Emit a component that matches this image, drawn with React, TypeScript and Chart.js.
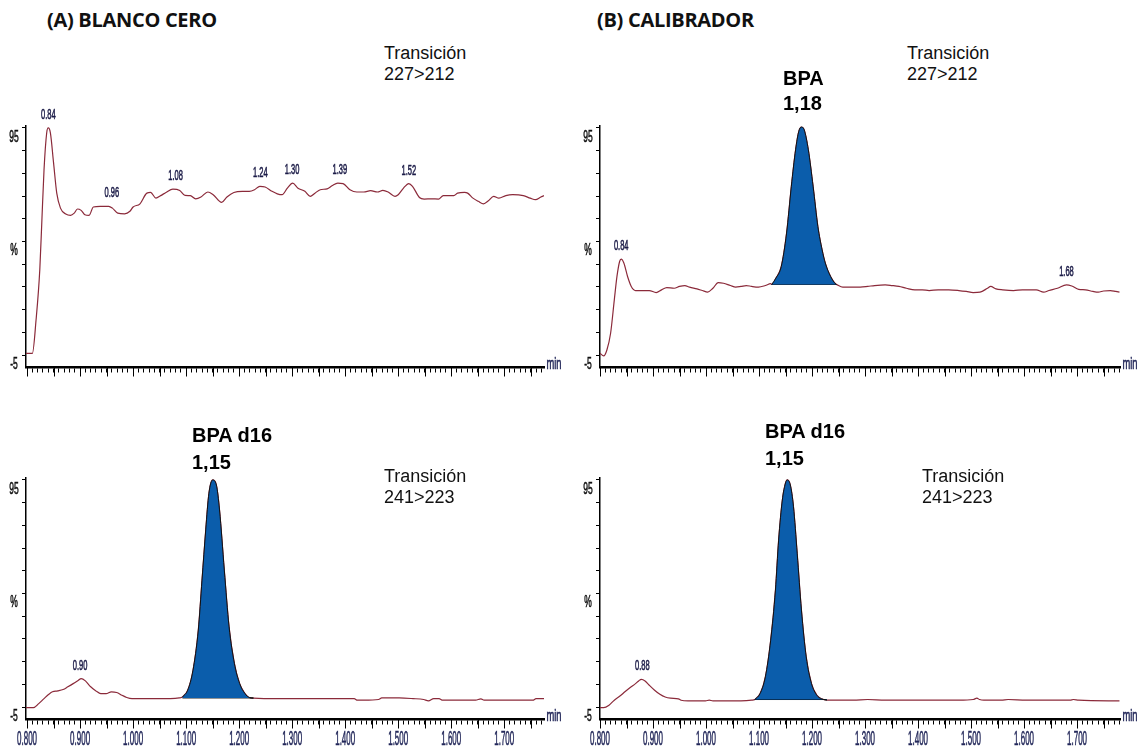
import React, { useEffect, useRef } from "react";
import { Chart, registerables } from "chart.js";

Chart.register(...registerables);

// ---------- (A) BLANCO CERO, transition 227>212 ----------
const a1Time = [0.797,0.810,0.817,0.824,0.828,0.832,0.837,0.840,0.844,0.850,0.856,0.863,0.873,0.882,0.889,0.895,0.902,0.909,0.917,0.925,0.938,0.954,0.961,0.971,0.984,0.994,1.000,1.013,1.026,1.033,1.043,1.052,1.062,1.075,1.088,1.098,1.108,1.118,1.128,1.141,1.151,1.167,1.177,1.190,1.206,1.219,1.229,1.239,1.249,1.262,1.272,1.281,1.291,1.301,1.311,1.324,1.334,1.343,1.353,1.366,1.376,1.386,1.396,1.409,1.422,1.435,1.448,1.461,1.471,1.481,1.494,1.500,1.510,1.520,1.527,1.540,1.549,1.563,1.576,1.585,1.605,1.612,1.625,1.631,1.641,1.651,1.661,1.670,1.680,1.690,1.703,1.716,1.736,1.749,1.759,1.769,1.775];
const a1Signal = [-4.3,-4.3,10.5,32.5,54.6,76.6,92.8,95,92.8,79.6,66.3,59.7,57.1,56.5,57.5,59.3,58.7,56.8,56.5,60.2,60.5,60.5,59.7,57.5,57.2,58.3,60.2,61.6,66.3,66.6,64.1,65.2,66.6,68.1,67.5,65.3,65.2,63.8,64.6,66.8,65.6,62.2,64.6,66.6,67.1,67.1,67.8,69.3,69.0,67.1,66.0,65.6,68.5,70.7,68.5,67.1,64.9,66.3,67.8,68.2,69.7,70.7,70.5,67.8,66.8,66.8,67.4,66.8,67.5,66.8,64.9,65.6,68.5,70.5,69.3,64.4,63.7,63.8,63.7,65.2,65.2,66.3,66.6,66.3,64.1,62.7,61.6,62.9,64.9,64.1,65.2,65.6,65.2,64.1,63.4,64.6,65.2];
const a1PeakTimes = [0.84, 0.96, 1.08, 1.24, 1.30, 1.39, 1.52];
const a1PeakHeights = [95, 60.5, 68.1, 69.3, 70.7, 70.7, 70.5];
const a1PeakTexts = ["0.84", "0.96", "1.08", "1.24", "1.30", "1.39", "1.52"];

// ---------- (A) BLANCO CERO, transition 241>223 ----------
const a2Time = [0.796,0.812,0.822,0.832,0.841,0.848,0.858,0.868,0.877,0.887,0.897,0.902,0.910,0.920,0.930,0.939,0.949,0.959,0.969,0.979,0.988,0.998,1.018,1.044,1.070,1.087,1.093,1.103,1.113,1.123,1.130,1.137,1.143,1.150,1.157,1.163,1.172,1.181,1.191,1.201,1.211,1.219,1.227,1.247,1.306,1.371,1.417,1.423,1.436,1.463,1.469,1.502,1.528,1.548,1.557,1.567,1.577,1.584,1.607,1.646,1.656,1.662,1.698,1.754,1.760,1.775];
const a2Signal = [-5.3,-5.3,-3.5,-1.3,0.6,1.7,2.1,2.7,3.9,5.3,6.8,7.5,6.5,3.9,2.1,0.9,0.9,1.7,1.4,0.2,-0.8,-1.3,-1.3,-1.3,-1.3,-1.0,-0.6,2.4,11.2,28.9,50.9,73.0,89.1,95,92.8,81.8,55.3,30.3,14.2,5.3,0.9,-0.8,-1.1,-1.3,-1.3,-1.3,-1.3,-2.0,-2.0,-1.7,-1.0,-1.0,-1.3,-1.7,-2.3,-1.3,-1.3,-2.0,-2.0,-2.0,-1.4,-2.0,-2.0,-2.0,-1.3,-1.3];
const a2PeakTimes = [0.90];
const a2PeakHeights = [7.5];
const a2PeakTexts = ["0.90"];
const a2Integrated = [1.093, 1.227];
const a2Baseline = -1.0;

// ---------- (B) CALIBRADOR, transition 227>212 ----------
const b1Time = [0.800,0.807,0.813,0.820,0.827,0.832,0.837,0.840,0.845,0.852,0.859,0.867,0.880,0.893,0.906,0.916,0.926,0.940,0.950,0.960,0.969,0.983,0.993,1.003,1.013,1.023,1.033,1.046,1.056,1.066,1.076,1.086,1.099,1.112,1.122,1.124,1.132,1.142,1.152,1.161,1.169,1.175,1.180,1.185,1.193,1.202,1.211,1.219,1.225,1.235,1.245,1.246,1.258,1.278,1.291,1.305,1.318,1.338,1.351,1.364,1.378,1.394,1.408,1.421,1.438,1.458,1.477,1.491,1.504,1.517,1.531,1.537,1.547,1.560,1.580,1.597,1.623,1.637,1.647,1.663,1.680,1.690,1.703,1.716,1.730,1.740,1.750,1.763,1.773,1.780];
const b1Signal = [-4.2,-5.4,-2.8,4.6,19.3,29.6,36.2,37.2,35.5,29.6,25.2,23.4,23.4,23.4,22.5,23.7,24.7,24.4,25.2,25.6,24.9,24.1,23.4,22.7,24.4,26.9,26.6,25.6,24.9,25.2,25.6,25.2,24.9,25.6,26.4,26.1,28.9,34.0,48.7,69.3,85.4,93.5,95.4,94.3,85.4,69.3,51.6,41.3,35.5,29.6,26.2,26.1,24.9,24.9,24.9,25.2,25.6,25.9,25.6,25.2,24.4,23.7,23.7,23.4,23.7,23.7,23.4,23.0,22.5,22.7,24.4,25.2,24.1,23.7,23.4,23.7,23.7,22.7,23.4,24.4,25.9,25.4,23.9,23.7,23.0,22.7,23.2,23.4,23.0,22.7];
const b1PeakTimes = [0.84, 1.68];
const b1PeakHeights = [37.2, 25.9];
const b1PeakTexts = ["0.84", "1.68"];
const b1Integrated = [1.124, 1.246];
const b1Baseline = 26.1;

// ---------- (B) CALIBRADOR, transition 241>223 ----------
const b2Time = [0.800,0.807,0.817,0.827,0.837,0.847,0.857,0.867,0.873,0.878,0.885,0.893,0.903,0.913,0.923,0.933,0.948,0.953,0.966,0.999,1.006,1.013,1.066,1.086,1.092,1.102,1.112,1.122,1.131,1.137,1.144,1.149,1.153,1.159,1.165,1.172,1.180,1.189,1.199,1.209,1.218,1.228,1.238,1.278,1.305,1.338,1.371,1.438,1.477,1.504,1.511,1.516,1.524,1.557,1.570,1.604,1.687,1.693,1.703,1.780];
const b2Signal = [-5.3,-5.3,-4.2,-2.0,-0.3,1.7,3.6,5.3,6.5,7.2,6.5,4.6,2.4,0.6,-0.6,-1.1,-1.4,-2.0,-2.3,-2.3,-2.0,-2.3,-2.3,-2.0,-1.7,0.9,8.3,24.4,46.5,68.5,86.2,92.8,95,92.8,83.2,62.7,37.7,17.1,5.3,0.2,-1.4,-2.0,-2.0,-2.0,-1.7,-2.0,-2.0,-2.0,-2.0,-1.7,-1.1,-1.7,-2.0,-2.0,-1.7,-2.0,-2.0,-1.7,-2.0,-2.3];
const b2PeakTimes = [0.88];
const b2PeakHeights = [7.2];
const b2PeakTexts = ["0.88"];
const b2Integrated = [1.092, 1.228];
const b2Baseline = -1.7;

// ---------- axes ----------
const xTickValues = [0.8, 0.9, 1.0, 1.1, 1.2, 1.3, 1.4, 1.5, 1.6, 1.7];
const xTickLabels = ["0.800", "0.900", "1.000", "1.100", "1.200", "1.300", "1.400", "1.500", "1.600", "1.700"];
const yTickValues = [95, 45, -5];
const yTickLabels = ["95", "%", "-5"];
const xUnit = "min";

type Panel = {
  time: number[];
  signal: number[];
  peakTimes: number[];
  peakHeights: number[];
  peakTexts: string[];
  integrated: number[] | null;
  baseline: number;
  box: { left: number; top: number; width: number; height: number };
  plot: { left: number; right: number; top: number; bottom: number };
  xMin: number;
  xMax: number;
  showXLabels: boolean;
};

const Y_MIN = -10.5;
const Y_MAX = 96;

const PANELS: Panel[] = [
  {
    time: a1Time, signal: a1Signal, peakTimes: a1PeakTimes, peakHeights: a1PeakHeights, peakTexts: a1PeakTexts,
    integrated: null, baseline: 0,
    box: { left: 0, top: 95, width: 575, height: 305 },
    plot: { left: 26, right: 544, top: 125.7, bottom: 367.5 },
    xMin: 0.798, xMax: 1.775, showXLabels: false,
  },
  {
    time: b1Time, signal: b1Signal, peakTimes: b1PeakTimes, peakHeights: b1PeakHeights, peakTexts: b1PeakTexts,
    integrated: b1Integrated, baseline: b1Baseline,
    box: { left: 575, top: 95, width: 563, height: 305 },
    plot: { left: 600, right: 1120, top: 125.7, bottom: 367.5 },
    xMin: 0.8, xMax: 1.781, showXLabels: false,
  },
  {
    time: a2Time, signal: a2Signal, peakTimes: a2PeakTimes, peakHeights: a2PeakHeights, peakTexts: a2PeakTexts,
    integrated: a2Integrated, baseline: a2Baseline,
    box: { left: 0, top: 440, width: 575, height: 313 },
    plot: { left: 26, right: 544, top: 477.7, bottom: 719.5 },
    xMin: 0.798, xMax: 1.775, showXLabels: true,
  },
  {
    time: b2Time, signal: b2Signal, peakTimes: b2PeakTimes, peakHeights: b2PeakHeights, peakTexts: b2PeakTexts,
    integrated: b2Integrated, baseline: b2Baseline,
    box: { left: 575, top: 440, width: 563, height: 313 },
    plot: { left: 600, right: 1120, top: 477.7, bottom: 719.5 },
    xMin: 0.8, xMax: 1.781, showXLabels: true,
  },
];

function narrowText(ctx: CanvasRenderingContext2D, text: string, x: number, y: number, size: number, sx: number, color: string) {
  ctx.save();
  ctx.translate(x, y);
  ctx.scale(sx, 1);
  ctx.font = `${size}px "Liberation Sans", Arial, sans-serif`;
  ctx.fillStyle = color;
  ctx.strokeStyle = color;
  ctx.lineWidth = 0.6;
  ctx.textAlign = "center";
  ctx.textBaseline = "middle";
  ctx.fillText(text, 0, 0);
  ctx.strokeText(text, 0, 0);
  ctx.restore();
}

function ChromPanel({ p }: { p: Panel }) {
  const ref = useRef<HTMLCanvasElement>(null);
  useEffect(() => {
    const canvas = ref.current!;
    const { box, plot } = p;
    const points = p.time.map((t, i) => ({ x: t, y: p.signal[i] }));
    const datasets: any[] = [];
    if (p.integrated) {
      const [a, b] = p.integrated;
      datasets.push({
        data: points.filter((d) => d.x >= a && d.x <= b),
        borderColor: "#111111",
        borderWidth: 1,
        backgroundColor: "#0b5dab",
        fill: { value: p.baseline },
        pointRadius: 0,
        cubicInterpolationMode: "monotone",
      });
      datasets.push({
        data: [{ x: a, y: p.baseline }, { x: b, y: p.baseline }],
        borderColor: "#000000",
        borderWidth: 1,
        pointRadius: 0,
        fill: false,
      });
    }
    datasets.push({
      data: points,
      borderColor: "#8b2a3a",
      borderWidth: 1.2,
      pointRadius: 0,
      fill: false,
      cubicInterpolationMode: "monotone",
    });

    const textPlugin = {
      id: "chromText",
      afterDraw(chart: any) {
        const ctx: CanvasRenderingContext2D = chart.ctx;
        const xs = chart.scales.x;
        const ys = chart.scales.y;
        const ca = chart.chartArea;
        // longer ticks every 0.05 min
        ctx.save();
        ctx.strokeStyle = "#000";
        ctx.lineWidth = 1;
        for (let k = 16; k <= 36; k++) {
          const v = k * 0.05;
          if (v < p.xMin - 1e-9 || v > p.xMax + 1e-9) continue;
          const px = Math.round(xs.getPixelForValue(v)) + 0.5;
          ctx.beginPath();
          ctx.moveTo(px, ca.bottom);
          ctx.lineTo(px, ca.bottom + 9);
          ctx.stroke();
        }
        ctx.restore();
        // y labels
        yTickValues.forEach((v, i) => {
          narrowText(ctx, yTickLabels[i], ca.left - 12, ys.getPixelForValue(v) + 9, 17, 0.5, "#111");
        });
        // x labels
        if (p.showXLabels) {
          xTickValues.forEach((v, i) => {
            narrowText(ctx, xTickLabels[i], xs.getPixelForValue(v), ca.bottom + 20, 21, 0.38, "#23285a");
          });
        }
        narrowText(ctx, xUnit, ca.right + 10, ca.bottom - 3, 17, 0.55, "#23285a");
        // peak labels
        p.peakTimes.forEach((t, i) => {
          narrowText(ctx, p.peakTexts[i], xs.getPixelForValue(t), ys.getPixelForValue(p.peakHeights[i]) - 13, 15, 0.5, "#1c1c48");
        });
      },
    };

    const chart = new Chart(canvas, {
      type: "line",
      data: { datasets },
      options: {
        responsive: false,
        animation: false,
        events: [],
        layout: {
          padding: {
            left: 0,
            right: box.left + box.width - plot.right,
            top: plot.top - box.top,
            bottom: 0,
          },
        },
        plugins: { legend: { display: false }, tooltip: { enabled: false } },
        scales: {
          x: {
            type: "linear",
            min: p.xMin,
            max: p.xMax,
            afterBuildTicks: (s: any) => {
              const t: any[] = [];
              for (let k = 80; k <= 178; k++) {
                const v = k / 100;
                if (v >= p.xMin - 1e-9 && v <= p.xMax + 1e-9) t.push({ value: v });
              }
              s.ticks = t;
            },
            afterFit: (s: any) => {
              s.height = box.top + box.height - plot.bottom;
            },
            ticks: { display: false },
            grid: { drawOnChartArea: false, drawTicks: true, tickLength: 5, tickColor: "#000", tickWidth: 1 },
            border: { display: true, color: "#000", width: 2.5 },
          },
          y: {
            type: "linear",
            min: Y_MIN,
            max: Y_MAX,
            afterBuildTicks: (s: any) => {
              const t: any[] = [];
              for (let v = -5; v <= 95; v += 10) t.push({ value: v });
              s.ticks = t;
            },
            afterFit: (s: any) => {
              s.width = plot.left - box.left;
            },
            ticks: { display: false },
            grid: { drawOnChartArea: false, drawTicks: true, tickLength: 4, tickColor: "#000", tickWidth: 1 },
            border: { display: true, color: "#000", width: 1.5 },
          },
        },
      } as any,
      plugins: [textPlugin],
    });
    return () => chart.destroy();
  }, [p]);
  return (
    <canvas
      ref={ref}
      width={p.box.width}
      height={p.box.height}
      style={{ position: "absolute", left: p.box.left, top: p.box.top, width: p.box.width, height: p.box.height }}
    />
  );
}

const titleStyle: React.CSSProperties = {
  position: "absolute",
  fontFamily: '"Open Sans", sans-serif',
  fontWeight: 700,
  fontSize: 20,
  lineHeight: "24px",
  color: "#111",
  whiteSpace: "nowrap",
  letterSpacing: -0.3,
};
const transStyle: React.CSSProperties = {
  position: "absolute",
  fontFamily: '"Liberation Sans", Arial, sans-serif',
  fontSize: 18,
  lineHeight: "21px",
  color: "#111",
  whiteSpace: "nowrap",
};
const bpaStyle: React.CSSProperties = {
  position: "absolute",
  fontFamily: '"Liberation Sans", Arial, sans-serif',
  fontWeight: 700,
  fontSize: 20,
  color: "#000",
  whiteSpace: "nowrap",
};

export default function App() {
  return (
    <div style={{ position: "absolute", left: 0, top: 0, width: 1138, height: 753, background: "#fff", overflow: "hidden" }}>
      {PANELS.map((p, i) => (
        <ChromPanel key={i} p={p} />
      ))}
      <div style={{ ...titleStyle, left: 47, top: 8 }}>(A) BLANCO CERO</div>
      <div style={{ ...titleStyle, left: 597, top: 8 }}>(B) CALIBRADOR</div>

      <div style={{ ...transStyle, left: 384, top: 43 }}>Transición<br />227&gt;212</div>
      <div style={{ ...transStyle, left: 907, top: 43 }}>Transición<br />227&gt;212</div>
      <div style={{ ...transStyle, left: 384, top: 466 }}>Transición<br />241&gt;223</div>
      <div style={{ ...transStyle, left: 922, top: 466 }}>Transición<br />241&gt;223</div>

      <div style={{ ...bpaStyle, left: 783, top: 66, lineHeight: "25px" }}>BPA<br />1,18</div>
      <div style={{ ...bpaStyle, left: 192, top: 422, lineHeight: "27px" }}>BPA d16<br />1,15</div>
      <div style={{ ...bpaStyle, left: 765, top: 418, lineHeight: "27px" }}>BPA d16<br />1,15</div>
    </div>
  );
}
